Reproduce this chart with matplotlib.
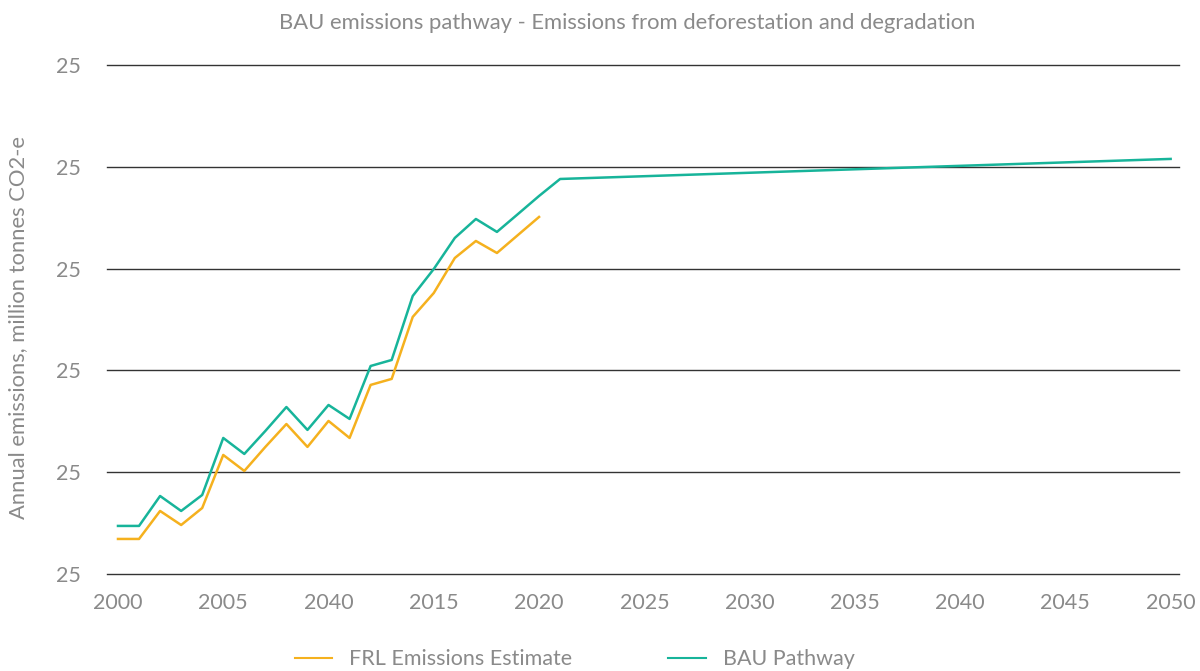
import numpy as np
import matplotlib
matplotlib.use('Agg')
import matplotlib.pyplot as plt

plt.rcParams['font.family'] = ['Lato', 'DejaVu Sans']

# data
frl_years = list(range(2000, 2021))
frl_vals = [3.44, 3.44, 6.19, 4.81, 6.48, 11.69, 10.12, 12.48, 14.73, 12.48,
            15.03, 13.36, 18.57, 19.16, 25.25, 27.60, 31.04, 32.71, 31.53, 33.30, 35.07]

bau_years = list(range(2000, 2022)) + [2050]
bau_vals = [4.72, 4.72, 7.66, 6.19, 7.76, 13.36, 11.79, 14.05, 16.40, 14.15,
            16.60, 15.23, 20.43, 21.02, 27.31, 29.96, 33.01, 34.87, 33.60, 35.36,
            37.13, 38.80, 40.77]

xtick_pos = [2000, 2005, 2010, 2015, 2020, 2025, 2030, 2035, 2040, 2045, 2050]
xtick_lab = ['2000', '2005', '2040', '2015', '2020', '2025', '2030', '2035', '2040', '2045', '2050']
ytick_pos = [0, 10, 20, 30, 40, 50]
ytick_lab = ['25'] * 6

title = 'BAU emissions pathway - Emissions from deforestation and degradation'
ylabel = 'Annual emissions, million tonnes CO2-e'

orange = '#f5b11e'
teal = '#17b49a'
grey = '#8a8a8a'

fig = plt.figure(figsize=(12, 6.71), dpi=100)
ax = fig.add_axes([0.0892, 0.1446, 0.893, 0.7586])

ax.plot(frl_years, frl_vals, color=orange, lw=1.8, label='FRL Emissions Estimate', zorder=3)
ax.plot(bau_years, bau_vals, color=teal, lw=1.8, label='BAU Pathway', zorder=3)

ax.set_xlim(1999.48, 2050.38)
ax.set_ylim(0, 50)
ax.set_xticks(xtick_pos)
ax.set_xticklabels(xtick_lab)
ax.set_yticks(ytick_pos)
ax.set_yticklabels(ytick_lab)
ax.tick_params(length=0, labelsize=15.5, labelcolor=grey)
ax.tick_params(axis='x', pad=14)
ax.tick_params(axis='y', pad=19)

for s in ax.spines.values():
    s.set_visible(False)
ax.grid(axis='y', color='#333333', lw=1, clip_on=False)
ax.set_axisbelow(True)

ax.set_ylabel(ylabel, fontsize=15.8, color=grey)
ax.yaxis.set_label_coords(-0.074, 0.485)
fig.suptitle(title, x=0.523, y=0.98, fontsize=15.8, color=grey)

leg = fig.legend(loc='lower center', bbox_to_anchor=(0.479, -0.026), ncol=2, frameon=False,
                 fontsize=15.5, columnspacing=4.45, handlelength=1.75, handletextpad=0.8)
for t in leg.get_texts():
    t.set_color(grey)
for h in leg.get_lines():
    h.set_linewidth(1.5)

fig.savefig('out.png', dpi=100)
